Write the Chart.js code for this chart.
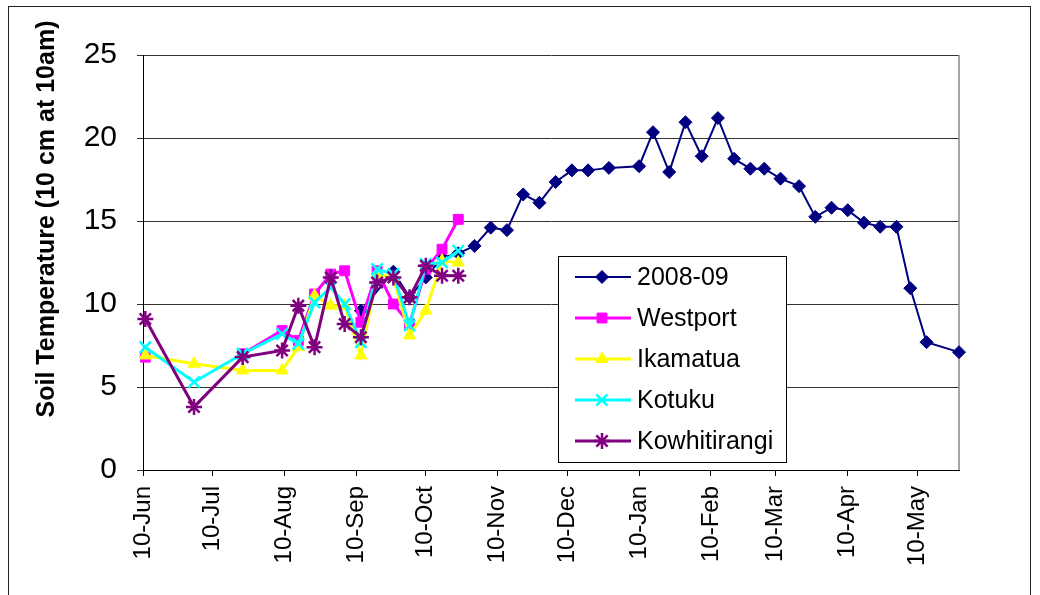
<!DOCTYPE html>
<html>
<head>
<meta charset="utf-8">
<script src="https://cdn.jsdelivr.net/npm/chart.js@4.4.0/dist/chart.umd.min.js"></script>
<style>
    html, body { margin: 0; padding: 0; background: #fff; }
    #wrap { width: 1040px; height: 595px; }
</style>
</head>
<body>
<div id="wrap"><canvas id="soilChart" width="1040" height="595"></canvas></div>
<script>
// x values are days counted from 10 June 2008
const tickDays = [0, 30, 61, 92, 122, 153, 183, 214, 245, 273, 304, 334];
const tickLabels = ['10-Jun', '10-Jul', '10-Aug', '10-Sep', '10-Oct', '10-Nov', '10-Dec', '10-Jan', '10-Feb', '10-Mar', '10-Apr', '10-May'];

const siteDays = [1, 22, 43, 60, 67, 74, 81, 87, 94, 101, 108, 115, 122, 129, 136];
const westport = [6.8, null, 7.0, 8.4, 7.8, 10.6, 11.8, 12.0, 8.9, 12.0, 10.0, 8.8, 12.1, 13.3, 15.1];
const ikamatua = [6.9, 6.4, 6.0, 6.0, 7.4, 10.5, 9.9, 9.9, 6.9, 11.8, 11.6, 8.1, 9.6, 12.6, 12.5];
const kotuku = [7.4, 5.3, 7.0, 8.2, 7.6, 10.1, 11.0, 10.0, 7.7, 12.1, 11.8, 8.7, 12.4, 12.5, 13.2];
const kowhitirangi = [9.1, 3.8, 6.8, 7.2, 9.9, 7.4, 11.6, 8.8, 8.0, 11.3, 11.6, 10.4, 12.3, 11.7, 11.7];

const seasonDays = [94, 108, 115, 122, 129, 136, 143, 150, 157, 164, 171, 178, 185, 192, 201, 214, 220, 227, 234, 241,
                    248, 255, 262, 268, 275, 283, 290, 297, 304, 311, 318, 325, 331, 338, 352];
const season0809 = [9.6, 11.95, 10.4, 11.6, 12.8, 13.05, 13.5, 14.6, 14.45, 16.6, 16.1, 17.35, 18.05, 18.05, 18.2, 18.3, 20.35, 17.95, 20.95, 18.9,
                    21.2, 18.75, 18.15, 18.15, 17.55, 17.1, 15.25, 15.8, 15.65, 14.9, 14.65, 14.65, 10.95, 7.7, 7.1];

const yTitleText = 'Soil Temperature (10 cm at 10am)';
const FONT = '"Liberation Sans", Arial, sans-serif';

function toPoints(days, values) {
    return days.map((d, i) => ({ x: d, y: values[i] }));
}

function series(label, days, values, color, style, radius, width, order) {
    return {
        label: label,
        data: toPoints(days, values),
        borderColor: color,
        backgroundColor: color,
        borderWidth: width,
        pointStyle: style,
        pointRadius: radius,
        pointBackgroundColor: color,
        pointBorderColor: color,
        pointBorderWidth: (style === 'crossRot' || style === 'star') ? 2.5 : 1,
        tension: 0,
        spanGaps: false,
        clip: false,
        order: order
    };
}

// frame round the whole picture + white background
const frame = {
    id: 'frame',
    beforeDraw(chart) {
        const ctx = chart.ctx;
        ctx.save();
        ctx.fillStyle = '#fff';
        ctx.fillRect(0, 0, chart.width, chart.height);
        ctx.strokeStyle = '#222';
        ctx.lineWidth = 1;
        ctx.strokeRect(8.5, 6.5, 1022, 620);
        ctx.restore();
    },
    beforeDatasetsDraw(chart) {
        const a = chart.chartArea;
        const ctx = chart.ctx;
        ctx.save();
        ctx.strokeStyle = '#888';
        ctx.lineWidth = 1.5;
        ctx.beginPath();
        ctx.moveTo(a.right, a.top);
        ctx.lineTo(a.right, a.bottom);
        ctx.stroke();
        ctx.restore();
    }
};

// rotated y title, placed as in the original
const yTitle = {
    id: 'yTitle',
    afterDraw(chart) {
        const ctx = chart.ctx;
        ctx.save();
        ctx.translate(47, 219);
        ctx.rotate(-Math.PI / 2);
        ctx.font = 'bold 25px ' + FONT;
        ctx.textAlign = 'center';
        ctx.textBaseline = 'middle';
        ctx.fillStyle = '#000';
        ctx.fillText(yTitleText, 0, 0);
        ctx.restore();
    }
};

// boxed legend inside the plot
const legendBox = {
    id: 'legendBox',
    afterDraw(chart) {
        const ctx = chart.ctx;
        const x = 558, y = 256, w = 228, h = 206;
        ctx.save();
        ctx.fillStyle = '#fff';
        ctx.fillRect(x, y, w, h);
        ctx.strokeStyle = '#000';
        ctx.lineWidth = 1;
        ctx.strokeRect(x + 0.5, y + 0.5, w, h);
        chart.data.datasets.forEach((ds, i) => {
            const cy = y + 21 + i * 41;
            ctx.strokeStyle = ds.borderColor;
            ctx.lineWidth = ds.borderWidth;
            ctx.beginPath();
            ctx.moveTo(x + 17, cy);
            ctx.lineTo(x + 73, cy);
            ctx.stroke();
            ctx.fillStyle = ds.pointBackgroundColor;
            ctx.strokeStyle = ds.pointBorderColor;
            ctx.lineWidth = ds.pointBorderWidth;
            Chart.helpers.drawPoint(ctx, {
                pointStyle: ds.pointStyle,
                radius: ds.pointRadius,
                rotation: 0,
                borderWidth: ds.pointBorderWidth
            }, x + 44, cy);
            ctx.fillStyle = '#000';
            ctx.font = '25px ' + FONT;
            ctx.textAlign = 'left';
            ctx.textBaseline = 'middle';
            ctx.fillText(ds.label, x + 79, cy + 1);
        });
        ctx.restore();
    }
};

const ctx = document.getElementById('soilChart');

new Chart(ctx, {
    type: 'line',
    data: {
        datasets: [
            series('2008-09', seasonDays, season0809, '#000080', 'rectRot', 6.5, 2, 4),
            series('Westport', siteDays, westport, '#FF00FF', 'rect', 7, 3, 3),
            series('Ikamatua', siteDays, ikamatua, '#FFFF00', 'triangle', 7, 3, 2),
            series('Kotuku', siteDays, kotuku, '#00FFFF', 'crossRot', 8, 3, 1),
            series('Kowhitirangi', siteDays, kowhitirangi, '#800080', 'star', 8, 3, 0)
        ]
    },
    options: {
        responsive: false,
        animation: false,
        events: [],
        layout: {
            padding: { left: 0, top: 55, right: 81, bottom: 0 }
        },
        plugins: {
            legend: { display: false },
            tooltip: { enabled: false }
        },
        scales: {
            x: {
                type: 'linear',
                min: 0,
                max: 352,
                afterBuildTicks: function(scale) {
                    scale.ticks = tickDays.map(v => ({ value: v }));
                },
                afterFit: function(scale) {
                    scale.height = 125;
                },
                ticks: {
                    autoSkip: false,
                    minRotation: 90,
                    maxRotation: 90,
                    padding: 10,
                    color: '#000',
                    font: { family: FONT, size: 24 },
                    callback: function(value) {
                        const i = tickDays.indexOf(value);
                        return i >= 0 ? tickLabels[i] : '';
                    }
                },
                grid: {
                    drawOnChartArea: false,
                    drawTicks: true,
                    tickLength: 6,
                    color: '#000'
                },
                border: { color: '#000', width: 1 }
            },
            y: {
                min: 0,
                max: 25,
                afterFit: function(scale) {
                    scale.width = 143;
                },
                ticks: {
                    stepSize: 5,
                    padding: 20,
                    color: '#000',
                    font: { family: FONT, size: 30 }
                },
                grid: {
                    color: '#333',
                    tickLength: 6,
                    drawTicks: true
                },
                border: { color: '#000', width: 1 }
            }
        }
    },
    plugins: [frame, yTitle, legendBox]
});
</script>
</body>
</html>
